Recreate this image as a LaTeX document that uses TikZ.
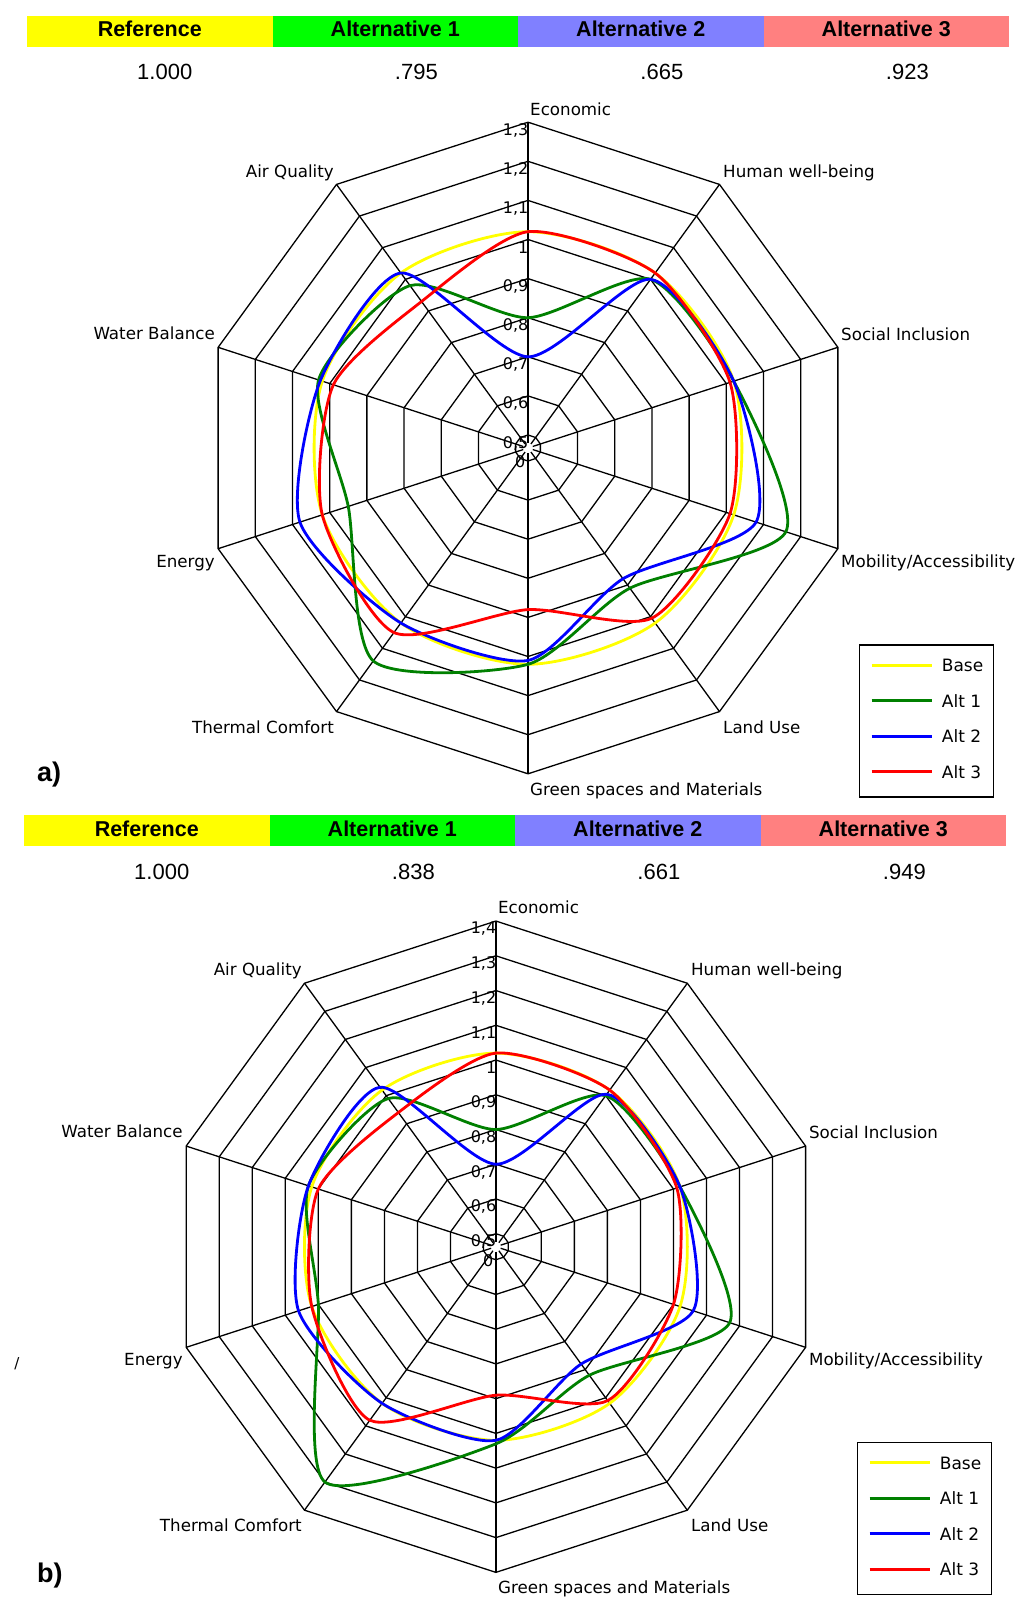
\documentclass[tikz,border=0pt]{standalone}
\usepackage{fontspec}
\setmainfont{DejaVu Sans}
\newfontfamily\hdrfont{Liberation Sans}
\definecolor{cY}{RGB}{255,255,0}
\definecolor{cG}{RGB}{0,128,0}
\definecolor{cB}{RGB}{0,0,255}
\definecolor{cR}{RGB}{255,0,0}
\definecolor{barY}{RGB}{255,255,0}
\definecolor{barG}{RGB}{0,255,0}
\definecolor{barB}{RGB}{128,128,255}
\definecolor{barR}{RGB}{255,128,128}

\newcommand\axislabels[1]{%
  \node[axlab,anchor=base west] (#1-eco) at (530,115) {Economic};
  \node[axlab,anchor=base west] (#1-hwb) at (723,177) {Human well-being};
  \node[axlab,anchor=base west] (#1-soc) at (841,340) {Social Inclusion};
  \node[axlab,anchor=base west] (#1-mob) at (841,567) {Mobility/Accessibility};
  \node[axlab,anchor=base west] (#1-lu) at (723,733) {Land Use};
  \node[axlab,anchor=base west] (#1-gsm) at (530,795) {Green spaces and Materials};
  \node[axlab,anchor=base east] (#1-tc) at (334,733) {Thermal Comfort};
  \node[axlab,anchor=base east] (#1-en) at (215,567) {Energy};
  \node[axlab,anchor=base east] (#1-wb) at (215,339) {Water Balance};
  \node[axlab,anchor=base east] (#1-aq) at (334,177) {Air Quality};
}
\newcommand\mylegend[1]{%
  \draw[legbox] (859.3,645) rectangle (993.3,797);
  \draw[legline,cY] (871.7,665) -- (931.7,665);
  \draw[legline,cG] (871.7,700.5) -- (931.7,700.5);
  \draw[legline,cB] (871.7,736) -- (931.7,736);
  \draw[legline,cR] (871.7,771.5) -- (931.7,771.5);
  \node[legtxt] (#1-lbase) at (941.7,671.5) {Base};
  \node[legtxt] (#1-lalt1) at (941.7,707) {Alt 1};
  \node[legtxt] (#1-lalt2) at (941.7,742.5) {Alt 2};
  \node[legtxt] (#1-lalt3) at (941.7,778) {Alt 3};
}

\begin{document}
\begin{tikzpicture}[x=1pt,y=-1pt,
  gridline/.style={line width=1.3pt,black},
  curve/.style={line width=2.8pt,line join=round},
  axlab/.style={font=\fontsize{16.7}{19}\selectfont,inner sep=0pt},
  ringlab/.style={font=\fontsize{16}{18}\selectfont,inner sep=0pt,anchor=east},
  hdrtxt/.style={font=\hdrfont\bfseries\fontsize{21.5}{24}\selectfont,inner sep=0pt,anchor=base},
  hdrnum/.style={font=\hdrfont\fontsize{22}{25}\selectfont,inner sep=0pt,anchor=base east},
  legbox/.style={draw=black,line width=1.6pt,fill=white},
  legline/.style={line width=3pt},
  legtxt/.style={font=\fontsize{17}{19}\selectfont,inner sep=0pt,anchor=base west},
  panel/.style={font=\hdrfont\bfseries\fontsize{27}{30}\selectfont,inner sep=0pt,anchor=base west},
  alt/.style={curve,smooth cycle,tension=0.42}]

\useasboundingbox[fill=white] (0,0) rectangle (1024,1611);

% ---------------- header a ----------------
\foreach \j/\c/\t/\n in {0/barY/Reference/1.000,1/barG/Alternative 1/.795,2/barB/Alternative 2/.665,3/barR/Alternative 3/.923}{
  \fill[\c] ({27+245.5*\j},16) rectangle ({272.5+245.5*\j},47.3);
  \node[hdrtxt] (ha-t\j) at ({149.75+245.5*\j},37) {\t};
  \node[hdrnum] (ha-n\j) at ({192.5+245.5*\j},80) {\n};
}

% ---------------- chart a ----------------
\begin{scope}[shift={(528,448)}]
  \foreach \i in {0,...,8}{
    \pgfmathsetmacro\rr{13+\i*39.1}
    \draw[gridline] (-90:\rr) \foreach \k in {1,...,9}{ -- ({-90+36*\k}:\rr)} -- cycle;
  }
  \foreach \k in {0,...,9} \draw[gridline] ({-90+36*\k}:5) -- ({-90+36*\k}:325.8);
  \foreach \i/\t in {0/{0,5},1/{0,6},2/{0,7},3/{0,8},4/{0,9},5/{1},6/{1,1},7/{1,2},8/{1,3}}{
    \node[ringlab] (a-ring\i) at (0.5,{-(13+\i*39.1)+8}) {\t};
  }
  \node[ringlab] (a-ring0c) at (-2.5,14) {0};
  % Base
  \draw[curve,cY] plot[smooth cycle] coordinates {(-90:216.3) (-54:216.3) (-18:216.3) (18:216.3) (54:216.3) (90:216.3) (126:216.3) (162:216.3) (198:216.3) (234:216.3)};
  % Alt 1
  \draw[curve,cG] plot[smooth cycle,tension=0.42] coordinates {(-90:130.3) (-54:208.5) (-18:216.3) (18:271.1) (54:173.3) (90:216.3) (126:263.2) (162:189.0) (198:220.2) (234:200.7)};
  % Alt 2
  \draw[curve,cB] plot[smooth cycle,tension=0.42] coordinates {(-90:91.2) (-54:208.5) (-18:216.3) (18:239.8) (54:161.6) (90:212.4) (126:216.3) (162:239.8) (198:218.3) (234:216.3)};
  % Alt 3
  \draw[curve,cR] plot[smooth cycle,tension=0.42] coordinates {(-90:216.3) (-54:216.3) (-18:212.4) (18:212.4) (54:210.4) (90:161.6) (126:228.1) (162:216.3) (198:204.6) (234:181.1)};
\end{scope}
\axislabels{a}
\mylegend{a}
\node[panel] (panel-a) at (37,781) {a)};

% ---------------- header b ----------------
\begin{scope}[shift={(-3,799)}]
\foreach \j/\c/\t/\n in {0/barY/Reference/1.000,1/barG/Alternative 1/.838,2/barB/Alternative 2/.661,3/barR/Alternative 3/.949}{
  \fill[\c] ({27+245.5*\j},16) rectangle ({272.5+245.5*\j},47.3);
  \node[hdrtxt] (hb-t\j) at ({149.75+245.5*\j},37) {\t};
  \node[hdrnum] (hb-n\j) at ({192.5+245.5*\j},80) {\n};
}
\end{scope}

% ---------------- chart b ----------------
\begin{scope}[shift={(495.9,1246.7)}]
  \foreach \i in {0,...,9}{
    \pgfmathsetmacro\rr{13+\i*34.74}
    \draw[gridline] (-90:\rr) \foreach \k in {1,...,9}{ -- ({-90+36*\k}:\rr)} -- cycle;
  }
  \foreach \k in {0,...,9} \draw[gridline] ({-90+36*\k}:5) -- ({-90+36*\k}:325.7);
  \foreach \i/\t in {0/{0,5},1/{0,6},2/{0,7},3/{0,8},4/{0,9},5/{1},6/{1,1},7/{1,2},8/{1,3},9/{1,4}}{
    \node[ringlab] (b-ring\i) at (0.5,{-(13+\i*34.74)+8}) {\t};
  }
  \node[ringlab] (b-ring0c) at (-2.5,14) {0};
  % Base
  \draw[curve,cY] plot[smooth cycle] coordinates {(-90:193.6) (-54:193.6) (-18:193.6) (18:193.6) (54:193.6) (90:193.6) (126:193.6) (162:193.6) (198:193.6) (234:193.6)};
  % Alt 1
  \draw[curve,cG] plot[smooth cycle,tension=0.42] coordinates {(-90:117.2) (-54:186.7) (-18:193.6) (18:245.8) (54:158.9) (90:197.1) (126:290.9) (162:186.7) (198:197.1) (234:183.2)};
  % Alt 2
  \draw[curve,cB] plot[smooth cycle,tension=0.42] coordinates {(-90:82.5) (-54:188.5) (-18:193.6) (18:207.5) (54:145.0) (90:193.6) (126:193.6) (162:207.5) (198:197.1) (234:197.1)};
  % Alt 3
  \draw[curve,cR] plot[smooth cycle,tension=0.42] coordinates {(-90:193.6) (-54:193.6) (-18:190.2) (18:186.7) (54:190.2) (90:148.5) (126:214.5) (162:193.6) (198:186.7) (234:165.9)};
\end{scope}
\begin{scope}[shift={(-32.1,798.7)}]
  \axislabels{b}
\end{scope}
\begin{scope}[shift={(-2,797.5)}]
  \mylegend{b}
\end{scope}
\node[panel] (panel-b) at (37,1582) {b)};
\node[font=\fontsize{15}{17}\selectfont,inner sep=0pt] (stray) at (17,1364) {/};

\end{tikzpicture}
\end{document}
